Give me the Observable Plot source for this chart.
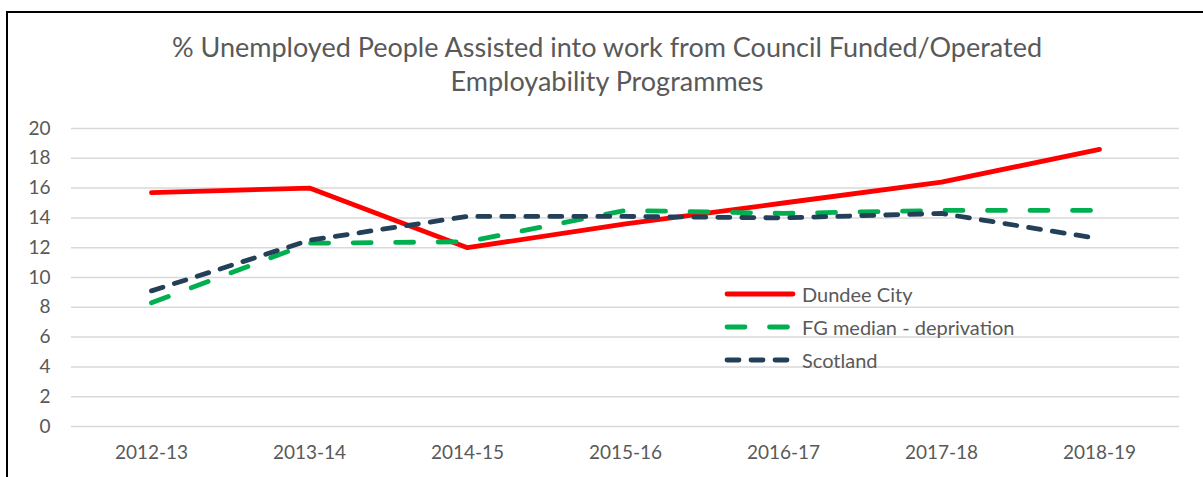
<!DOCTYPE html>
<html><head><meta charset="utf-8">
<script src="https://cdn.jsdelivr.net/npm/d3@7"></script>
<script src="https://cdn.jsdelivr.net/npm/@observablehq/plot@0.6"></script>
<style>
body{margin:0;background:#fff;}
#wrap{position:relative;width:1203px;height:477px;overflow:hidden;font-family:Lato,sans-serif;color:#595959;background:#fff;}
#frame{position:absolute;left:6px;top:11px;width:1300px;height:600px;border-left:2px solid #000;border-top:2px solid #000;}
#title{position:absolute;left:0;top:30px;width:1214px;text-align:center;font-size:27px;line-height:34px;}
#chart{position:absolute;left:0;top:110px;}
#legend{position:absolute;left:724px;top:277px;font-size:20px;}
.row{display:flex;align-items:center;height:33px;}
.row span{margin-left:6px;}
</style>
</head><body>
<div id="wrap">
  <div id="frame"></div>
  <div id="title">% Unemployed People Assisted into work from Council Funded/Operated<br>Employability Programmes</div>
  <div id="chart"></div>
  <div id="legend"></div>
</div>
<script>
const years = ["2012-13","2013-14","2014-15","2015-16","2016-17","2017-18","2018-19"];
const dundeeCity = [15.7, 16.0, 12.0, 13.6, 15.0, 16.4, 18.6];
const fgMedianDeprivation = [8.3, 12.3, 12.4, 14.5, 14.3, 14.5, 14.5];
const scotland = [9.1, 12.5, 14.1, 14.1, 14.0, 14.3, 12.6];
const yTicks = [0,2,4,6,8,10,12,14,16,18,20];

const seriesDefs = [
  {name:"Dundee City", values:dundeeCity, stroke:"#FF0000", dash:null},
  {name:"FG median - deprivation", values:fgMedianDeprivation, stroke:"#00B050", dash:"18,24.5"},
  {name:"Scotland", values:scotland, stroke:"#243F58", dash:"12,12"}
];

const lineMarks = seriesDefs.map(s => Plot.line(
  years.map((y,i) => ({year:y, value:s.values[i]})),
  {x:"year", y:"value", stroke:s.stroke, strokeWidth:4.8, strokeLinecap:"round", strokeLinejoin:"round",
   strokeDasharray: s.dash || undefined}
));

const chart = Plot.plot({
  width:1203, height:367,
  marginLeft:71, marginRight:24, marginTop:18, marginBottom:51,
  style:{fontFamily:"Lato, sans-serif", fontSize:"19px", color:"#595959", background:"transparent", overflow:"visible"},
  x:{type:"point", domain:years, padding:0.5, label:null},
  y:{domain:[0,20], label:null},
  marks:[
    Plot.gridY(yTicks, {stroke:"#D9D9D9", strokeOpacity:1, strokeWidth:1.5}),
    Plot.axisY(yTicks, {tickSize:0, tickPadding:21, label:null, fill:"#595959", fontSize:19}),
    Plot.axisX({tickSize:0, tickPadding:19, label:null, fill:"#595959", fontSize:19}),
    ...lineMarks
  ]
});
document.getElementById("chart").appendChild(chart);

const legend = document.getElementById("legend");
seriesDefs.forEach(s => {
  const row = document.createElement("div");
  row.className = "row";
  row.innerHTML = `<svg width="72" height="10"><line x1="3" y1="5" x2="69" y2="5" stroke="${s.stroke}" stroke-width="4.8" stroke-linecap="round" ${s.dash ? `stroke-dasharray="${s.dash}"` : ""}/></svg><span>${s.name}</span>`;
  legend.appendChild(row);
});
</script>
</body></html>
